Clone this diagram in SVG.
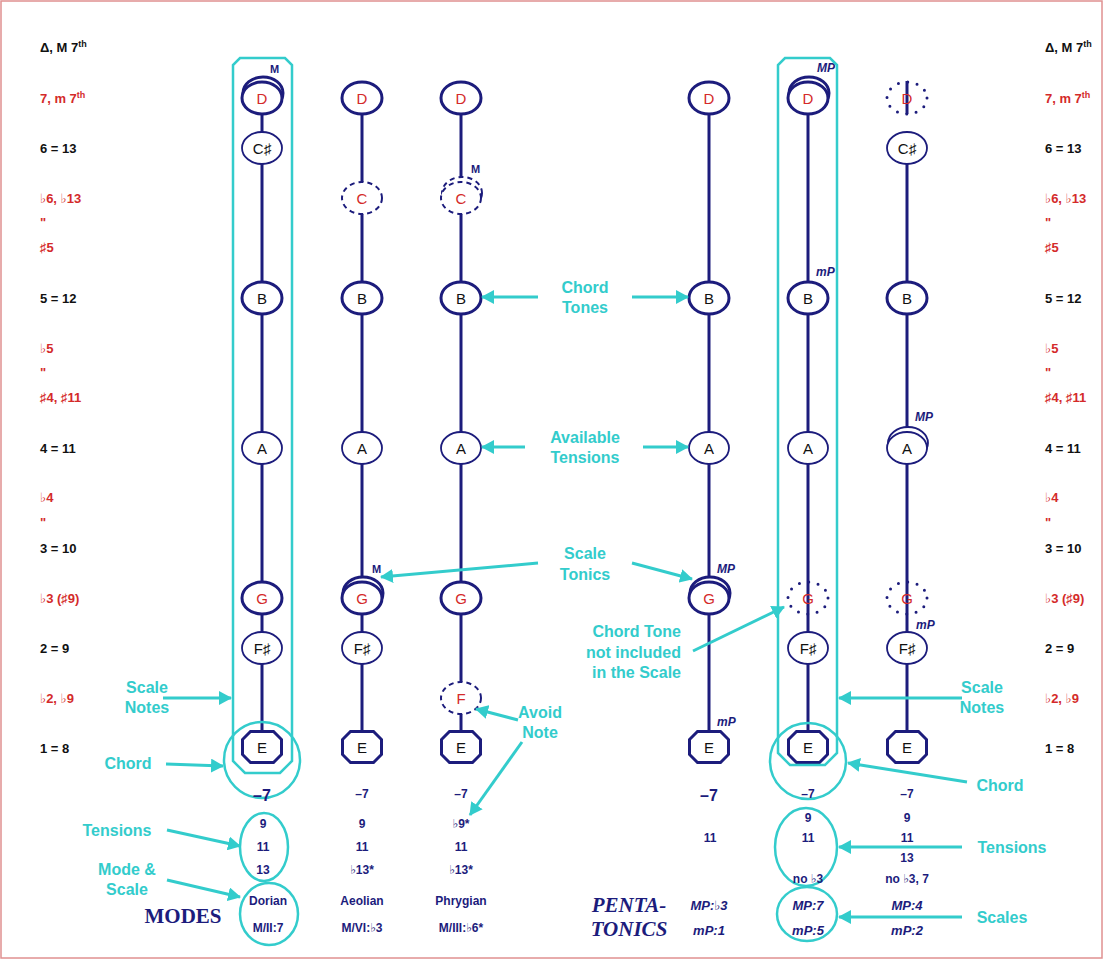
<svg xmlns="http://www.w3.org/2000/svg" width="1103" height="961" viewBox="0 0 1103 961">
<style>
.lbl{font:bold 13px "Liberation Sans","DejaVu Sans",sans-serif;fill:#111}
.red{fill:#d42a2a}
.ln{stroke:#1c1c7c;stroke-width:3;fill:none}
.n{fill:#fff;stroke:#1c1c7c;stroke-width:3}
.t{fill:#fff;stroke:#1c1c7c;stroke-width:1.8}
.d{fill:#fff;stroke:#1c1c7c;stroke-width:2;stroke-dasharray:5 4}
.o{fill:none;stroke:#1c1c7c;stroke-width:3;stroke-dasharray:0 9.48;stroke-linecap:round}
.nt{font:15px "Liberation Sans","DejaVu Sans",sans-serif;text-anchor:middle;fill:#111}
.nr{fill:#d42a2a}
.mk{font:bold 11px "Liberation Sans","DejaVu Sans",sans-serif;fill:#1c1c7c}
.mi{font:italic bold 12px "Liberation Sans","DejaVu Sans",sans-serif;fill:#1c1c7c}
.ann{font:bold 16px "Liberation Sans","DejaVu Sans",sans-serif;fill:#33cccc;text-anchor:middle}
.arr{stroke:#33cccc;stroke-width:3;fill:none;marker-end:url(#ah)}
.cy{fill:none;stroke:#33cccc;stroke-width:2.5}
.bt{font:bold 12px "Liberation Sans","DejaVu Sans",sans-serif;fill:#1c1c7c;text-anchor:middle}
.bb{font:bold 16px "Liberation Sans","DejaVu Sans",sans-serif;fill:#1c1c7c;text-anchor:middle}
.bi{font:italic bold 13px "Liberation Sans","DejaVu Sans",sans-serif;fill:#1c1c7c;text-anchor:middle}
.ser{font:bold 21px "Liberation Serif","DejaVu Serif",serif;fill:#1c1c7c;text-anchor:middle}
.seri{font:italic bold 21px "Liberation Serif","DejaVu Serif",serif;fill:#1c1c7c;text-anchor:middle}
</style>
<defs>
<marker id="ah" markerUnits="userSpaceOnUse" markerWidth="14" markerHeight="14" refX="12" refY="7" orient="auto">
<path d="M0,0 L13,7 L0,14 Z" fill="#33cccc"/>
</marker>
<path id="oct" d="M-11.5,-15.5 L11.5,-15.5 L19.5,-7.5 L19.5,7.5 L11.5,15.5 L-11.5,15.5 L-19.5,7.5 L-19.5,-7.5 Z"/>
</defs>
<rect x="1" y="1" width="1101" height="957" fill="#fff" stroke="#e09090" stroke-width="1.5"/>

<g id="labels-left">
<text class="lbl" x="40" y="52">Δ, M 7<tspan font-size="9" dy="-5">th</tspan></text>
<text class="lbl red" x="40" y="103">7, m 7<tspan font-size="9" dy="-5">th</tspan></text>
<text class="lbl" x="40" y="153">6 = 13</text>
<text class="lbl red" x="40" y="203">♭6, ♭13</text>
<text class="lbl red" x="40" y="227">"</text>
<text class="lbl red" x="40" y="252">♯5</text>
<text class="lbl" x="40" y="303">5 = 12</text>
<text class="lbl red" x="40" y="353">♭5</text>
<text class="lbl red" x="40" y="377">"</text>
<text class="lbl red" x="40" y="402">♯4, ♯11</text>
<text class="lbl" x="40" y="453">4 = 11</text>
<text class="lbl red" x="40" y="502">♭4</text>
<text class="lbl red" x="40" y="527">"</text>
<text class="lbl" x="40" y="553">3 = 10</text>
<text class="lbl red" x="40" y="603">♭3 (♯9)</text>
<text class="lbl" x="40" y="653">2 = 9</text>
<text class="lbl red" x="40" y="703">♭2, ♭9</text>
<text class="lbl" x="40" y="753">1 = 8</text>
</g>
<g id="labels-right">
<text class="lbl" x="1045" y="52">Δ, M 7<tspan font-size="9" dy="-5">th</tspan></text>
<text class="lbl red" x="1045" y="103">7, m 7<tspan font-size="9" dy="-5">th</tspan></text>
<text class="lbl" x="1045" y="153">6 = 13</text>
<text class="lbl red" x="1045" y="203">♭6, ♭13</text>
<text class="lbl red" x="1045" y="227">"</text>
<text class="lbl red" x="1045" y="252">♯5</text>
<text class="lbl" x="1045" y="303">5 = 12</text>
<text class="lbl red" x="1045" y="353">♭5</text>
<text class="lbl red" x="1045" y="377">"</text>
<text class="lbl red" x="1045" y="402">♯4, ♯11</text>
<text class="lbl" x="1045" y="453">4 = 11</text>
<text class="lbl red" x="1045" y="502">♭4</text>
<text class="lbl red" x="1045" y="527">"</text>
<text class="lbl" x="1045" y="553">3 = 10</text>
<text class="lbl red" x="1045" y="603">♭3 (♯9)</text>
<text class="lbl" x="1045" y="653">2 = 9</text>
<text class="lbl red" x="1045" y="703">♭2, ♭9</text>
<text class="lbl" x="1045" y="753">1 = 8</text>
</g>

<g id="connectors">
<line class="ln" x1="262" y1="98" x2="262" y2="747"/>
<line class="ln" x1="362" y1="98" x2="362" y2="747"/>
<line class="ln" x1="461" y1="98" x2="461" y2="747"/>
<line class="ln" x1="709" y1="98" x2="709" y2="747"/>
<line class="ln" x1="808" y1="98" x2="808" y2="747"/>
<line class="ln" x1="907" y1="148" x2="907" y2="747"/>
<line class="ln" x1="907" y1="81" x2="907" y2="114"/>
</g>

<g id="col1">
<ellipse class="n" cx="263" cy="93" rx="20" ry="16"/>
<ellipse class="n" cx="262" cy="98" rx="20" ry="16"/><text class="nt nr" x="262" y="104">D</text>
<text class="mk" x="270" y="73">M</text>
<ellipse class="t" cx="262" cy="148" rx="20" ry="16"/><text class="nt" x="262" y="154">C♯</text>
<ellipse class="n" cx="262" cy="298" rx="20" ry="16"/><text class="nt" x="262" y="304">B</text>
<ellipse class="t" cx="262" cy="448" rx="20" ry="16"/><text class="nt" x="262" y="454">A</text>
<ellipse class="n" cx="262" cy="598" rx="20" ry="16"/><text class="nt nr" x="262" y="604">G</text>
<ellipse class="t" cx="262" cy="648" rx="20" ry="16"/><text class="nt" x="262" y="654">F♯</text>
<use href="#oct" x="262" y="747" class="n"/><text class="nt" x="262" y="753">E</text>
</g>
<g id="col2">
<ellipse class="n" cx="362" cy="98" rx="20" ry="16"/><text class="nt nr" x="362" y="104">D</text>
<ellipse class="d" cx="362" cy="198" rx="20" ry="16"/><text class="nt nr" x="362" y="204">C</text>
<ellipse class="n" cx="362" cy="298" rx="20" ry="16"/><text class="nt" x="362" y="304">B</text>
<ellipse class="t" cx="362" cy="448" rx="20" ry="16"/><text class="nt" x="362" y="454">A</text>
<ellipse class="n" cx="363" cy="593" rx="20" ry="16"/>
<ellipse class="n" cx="362" cy="598" rx="20" ry="16"/><text class="nt nr" x="362" y="604">G</text>
<text class="mk" x="372" y="573">M</text>
<ellipse class="t" cx="362" cy="648" rx="20" ry="16"/><text class="nt" x="362" y="654">F♯</text>
<use href="#oct" x="362" y="747" class="n"/><text class="nt" x="362" y="753">E</text>
</g>
<g id="col3">
<ellipse class="n" cx="461" cy="98" rx="20" ry="16"/><text class="nt nr" x="461" y="104">D</text>
<ellipse class="d" cx="462" cy="193" rx="20" ry="16"/>
<ellipse class="d" cx="461" cy="198" rx="20" ry="16"/><text class="nt nr" x="461" y="204">C</text>
<text class="mk" x="471" y="173">M</text>
<ellipse class="n" cx="461" cy="298" rx="20" ry="16"/><text class="nt" x="461" y="304">B</text>
<ellipse class="t" cx="461" cy="448" rx="20" ry="16"/><text class="nt" x="461" y="454">A</text>
<ellipse class="n" cx="461" cy="598" rx="20" ry="16"/><text class="nt nr" x="461" y="604">G</text>
<ellipse class="d" cx="461" cy="698" rx="20" ry="16"/><text class="nt nr" x="461" y="704">F</text>
<use href="#oct" x="461" y="747" class="n"/><text class="nt" x="461" y="753">E</text>
</g>
<g id="col4">
<ellipse class="n" cx="709" cy="98" rx="20" ry="16"/><text class="nt nr" x="709" y="104">D</text>
<ellipse class="n" cx="709" cy="298" rx="20" ry="16"/><text class="nt" x="709" y="304">B</text>
<ellipse class="t" cx="709" cy="448" rx="20" ry="16"/><text class="nt" x="709" y="454">A</text>
<ellipse class="n" cx="710" cy="593" rx="20" ry="16"/>
<ellipse class="n" cx="709" cy="598" rx="20" ry="16"/><text class="nt nr" x="709" y="604">G</text>
<text class="mi" x="717" y="573">MP</text>
<use href="#oct" x="709" y="747" class="n"/><text class="nt" x="709" y="753">E</text>
<text class="mi" x="717" y="726">mP</text>
</g>
<g id="col5">
<ellipse class="n" cx="809" cy="93" rx="20" ry="16"/>
<ellipse class="n" cx="808" cy="98" rx="20" ry="16"/><text class="nt nr" x="808" y="104">D</text>
<text class="mi" x="817" y="72">MP</text>
<ellipse class="n" cx="808" cy="298" rx="20" ry="16"/><text class="nt" x="808" y="304">B</text>
<text class="mi" x="816" y="276">mP</text>
<ellipse class="t" cx="808" cy="448" rx="20" ry="16"/><text class="nt" x="808" y="454">A</text>
<ellipse class="o" cx="808" cy="598" rx="20" ry="16"/><text class="nt nr" x="808" y="604">G</text>
<ellipse class="t" cx="808" cy="648" rx="20" ry="16"/><text class="nt" x="808" y="654">F♯</text>
<use href="#oct" x="808" y="747" class="n"/><text class="nt" x="808" y="753">E</text>
</g>
<g id="col6">
<ellipse class="o" cx="907" cy="98" rx="20" ry="16"/><text class="nt nr" x="907" y="104">D</text>
<ellipse class="t" cx="907" cy="148" rx="20" ry="16"/><text class="nt" x="907" y="154">C♯</text>
<ellipse class="n" cx="907" cy="298" rx="20" ry="16"/><text class="nt" x="907" y="304">B</text>
<ellipse class="t" cx="908" cy="443" rx="20" ry="16"/>
<ellipse class="t" cx="907" cy="448" rx="20" ry="16"/><text class="nt" x="907" y="454">A</text>
<text class="mi" x="915" y="421">MP</text>
<ellipse class="o" cx="907" cy="598" rx="20" ry="16"/><text class="nt nr" x="907" y="604">G</text>
<text class="mi" x="916" y="629">mP</text>
<ellipse class="t" cx="907" cy="648" rx="20" ry="16"/><text class="nt" x="907" y="654">F♯</text>
<use href="#oct" x="907" y="747" class="n"/><text class="nt" x="907" y="753">E</text>
</g>

<g id="highlights">
<path class="cy" d="M240,58 L285,58 L292,65 L292,761 L280,773 L245,773 L233,761 L233,65 Z"/>
<path class="cy" d="M785,58 L830,58 L837,65 L837,753 L825,765 L790,765 L778,753 L778,65 Z"/>
<circle class="cy" cx="262" cy="760" r="38"/>
<circle class="cy" cx="808" cy="761" r="38"/>
<ellipse class="cy" cx="264" cy="847" rx="24" ry="34"/>
<ellipse class="cy" cx="269" cy="914" rx="29" ry="31"/>
<ellipse class="cy" cx="806" cy="847" rx="31" ry="39"/>
<ellipse class="cy" cx="807" cy="914" rx="30" ry="27"/>
</g>

<g id="bottom-text">
<text class="bb" x="262" y="801">–7</text>
<text class="bt" x="362" y="798">–7</text>
<text class="bt" x="461" y="798">–7</text>
<text class="bb" x="709" y="801">–7</text>
<text class="bt" x="808" y="798">–7</text>
<text class="bt" x="907" y="798">–7</text>
<text class="bt" x="263" y="828">9</text>
<text class="bt" x="263" y="851">11</text>
<text class="bt" x="263" y="874">13</text>
<text class="bt" x="362" y="828">9</text>
<text class="bt" x="362" y="851">11</text>
<text class="bt" x="362" y="874">♭13*</text>
<text class="bt" x="461" y="828">♭9*</text>
<text class="bt" x="461" y="851">11</text>
<text class="bt" x="461" y="874">♭13*</text>
<text class="bt" x="710" y="842">11</text>
<text class="bt" x="808" y="822">9</text>
<text class="bt" x="808" y="842">11</text>
<text class="bt" x="808" y="883">no ♭3</text>
<text class="bt" x="907" y="822">9</text>
<text class="bt" x="907" y="842">11</text>
<text class="bt" x="907" y="862">13</text>
<text class="bt" x="907" y="883">no ♭3, 7</text>
<text class="bt" x="268" y="905">Dorian</text>
<text class="bt" x="268" y="932">M/II:7</text>
<text class="bt" x="362" y="905">Aeolian</text>
<text class="bt" x="362" y="932">M/VI:♭3</text>
<text class="bt" x="461" y="905">Phrygian</text>
<text class="bt" x="461" y="932">M/III:♭6*</text>
<text class="ser" x="183" y="923">MODES</text>
<text class="seri" x="629" y="912">PENTA-</text>
<text class="seri" x="629" y="936">TONICS</text>
<text class="bi" x="709" y="910">MP:♭3</text>
<text class="bi" x="709" y="935">mP:1</text>
<text class="bi" x="808" y="910">MP:7</text>
<text class="bi" x="808" y="935">mP:5</text>
<text class="bi" x="907" y="910">MP:4</text>
<text class="bi" x="907" y="935">mP:2</text>
</g>

<g id="annotations">
<text class="ann" x="585" y="293">Chord</text>
<text class="ann" x="585" y="313">Tones</text>
<path class="arr" d="M538,297 L482,297"/>
<path class="arr" d="M632,297 L688,297"/>
<text class="ann" x="585" y="443">Available</text>
<text class="ann" x="585" y="463">Tensions</text>
<path class="arr" d="M525,447 L482,447"/>
<path class="arr" d="M643,447 L688,447"/>
<text class="ann" x="585" y="559">Scale</text>
<text class="ann" x="585" y="580">Tonics</text>
<path class="arr" d="M538,563 L381,577"/>
<path class="arr" d="M632,563 L692,579"/>
<text class="ann" x="681" y="637" text-anchor="end" style="text-anchor:end">Chord Tone</text>
<text class="ann" x="681" y="658" style="text-anchor:end">not included</text>
<text class="ann" x="681" y="678" style="text-anchor:end">in the Scale</text>
<path class="arr" d="M693,651 L784,607"/>
<text class="ann" x="540" y="718">Avoid</text>
<text class="ann" x="540" y="738">Note</text>
<path class="arr" d="M518,720 L476,709"/>
<path class="arr" d="M522,742 L470,815"/>
<text class="ann" x="147" y="693">Scale</text>
<text class="ann" x="147" y="713">Notes</text>
<path class="arr" d="M163,698 L231,698"/>
<text class="ann" x="128" y="769">Chord</text>
<path class="arr" d="M166,764 L223,766"/>
<text class="ann" x="117" y="836">Tensions</text>
<path class="arr" d="M167,830 L240,846"/>
<text class="ann" x="127" y="875">Mode &amp;</text>
<text class="ann" x="127" y="895">Scale</text>
<path class="arr" d="M167,880 L240,897"/>
<text class="ann" x="982" y="693">Scale</text>
<text class="ann" x="982" y="713">Notes</text>
<path class="arr" d="M962,698 L839,698"/>
<text class="ann" x="1000" y="791">Chord</text>
<path class="arr" d="M967,782 L848,763"/>
<text class="ann" x="1012" y="853">Tensions</text>
<path class="arr" d="M962,847 L839,847"/>
<text class="ann" x="1002" y="923">Scales</text>
<path class="arr" d="M962,917 L839,917"/>
</g>
</svg>
